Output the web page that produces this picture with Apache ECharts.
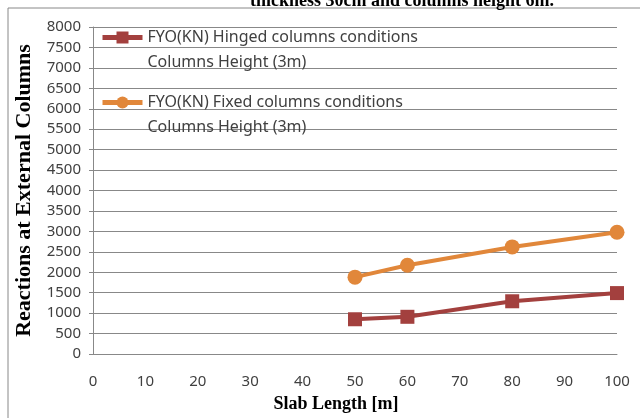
<!DOCTYPE html>
<html><head><meta charset="utf-8">
<script src="https://cdn.jsdelivr.net/npm/echarts@6/dist/echarts.min.js"></script>
<style>html,body{margin:0;padding:0;background:#fff}#c{width:640px;height:418px}</style>
</head><body><div id="c"></div>
<script>
const titleText = 'thickness 30cm and columns height 6m.';
const xLabel = 'Slab Length [m]';
const yLabel = 'Reactions at External Columns';
const slabLength = [50, 60, 80, 100];
const hinged = [850, 910, 1290, 1490];
const fixed = [1880, 2170, 2620, 2980];
const hingedName = 'FYO(KN) Hinged columns conditions\nColumns Height (3m)';
const fixedName = 'FYO(KN) Fixed columns conditions\nColumns Height (3m)';

const legendText = { fontFamily: 'Noto Sans', fontSize: 16, color: '#404040', lineHeight: 25 };
const legendFmt = name => ' \n' + name;
const chart = echarts.init(document.getElementById('c'));
chart.setOption({
  animation: false,
  title: { text: titleText, left: 245, top: -13,
    textStyle: { fontFamily: 'Liberation Serif', fontWeight: 'bold', fontSize: 18, color: '#000' } },
  graphic: [{ type: 'rect', shape: { x: 8, y: 8, width: 640, height: 420 },
    style: { fill: 'none', stroke: '#888', lineWidth: 1 }, z: -1 }],
  grid: { left: 93, right: 23, top: 27, bottom: 63 },
  legend: [
    { left: 100, top: 0, itemWidth: 40, itemHeight: 15, itemGap: 4, padding: 0,
      lineStyle: { width: 5 }, textStyle: legendText, formatter: legendFmt, data: [hingedName] },
    { left: 100, top: 65, itemWidth: 40, itemHeight: 15, itemGap: 4, padding: 0,
      lineStyle: { width: 5 }, textStyle: legendText, formatter: legendFmt, data: [fixedName] }
  ],
  xAxis: {
    type: 'value', min: 0, max: 100, interval: 10,
    name: xLabel, nameLocation: 'middle', nameGap: 41,
    nameTextStyle: { fontFamily: 'Liberation Serif', fontWeight: 'bold', fontSize: 18, color: '#000', padding: [0, 38, 0, 0] },
    axisLine: { show: true, lineStyle: { color: '#888' } },
    axisTick: { show: false },
    splitLine: { show: false },
    axisLabel: { fontFamily: 'Noto Sans', fontSize: 15, color: '#404040', margin: 20 }
  },
  yAxis: {
    type: 'value', min: 0, max: 8000, interval: 500,
    name: yLabel, nameLocation: 'middle', nameGap: 58,
    nameTextStyle: { fontFamily: 'Liberation Serif', fontWeight: 'bold', fontSize: 22, color: '#000' },
    axisLine: { show: true, lineStyle: { color: '#888' } },
    axisTick: { show: true, length: 4, lineStyle: { color: '#888' } },
    splitLine: { lineStyle: { color: '#888', width: 1 } },
    axisLabel: { fontFamily: 'Noto Sans', fontSize: 15, color: '#404040', margin: 12,
      formatter: v => String(v) }
  },
  series: [
    { name: hingedName, type: 'line', data: slabLength.map((x, i) => [x, hinged[i]]),
      symbol: 'rect', symbolSize: 14, lineStyle: { width: 4, color: '#A3403E' },
      itemStyle: { color: '#A3403E' } },
    { name: fixedName, type: 'line', data: slabLength.map((x, i) => [x, fixed[i]]),
      symbol: 'circle', symbolSize: 15, lineStyle: { width: 4, color: '#E1873A' },
      itemStyle: { color: '#E1873A' } }
  ]
});
</script></body></html>
